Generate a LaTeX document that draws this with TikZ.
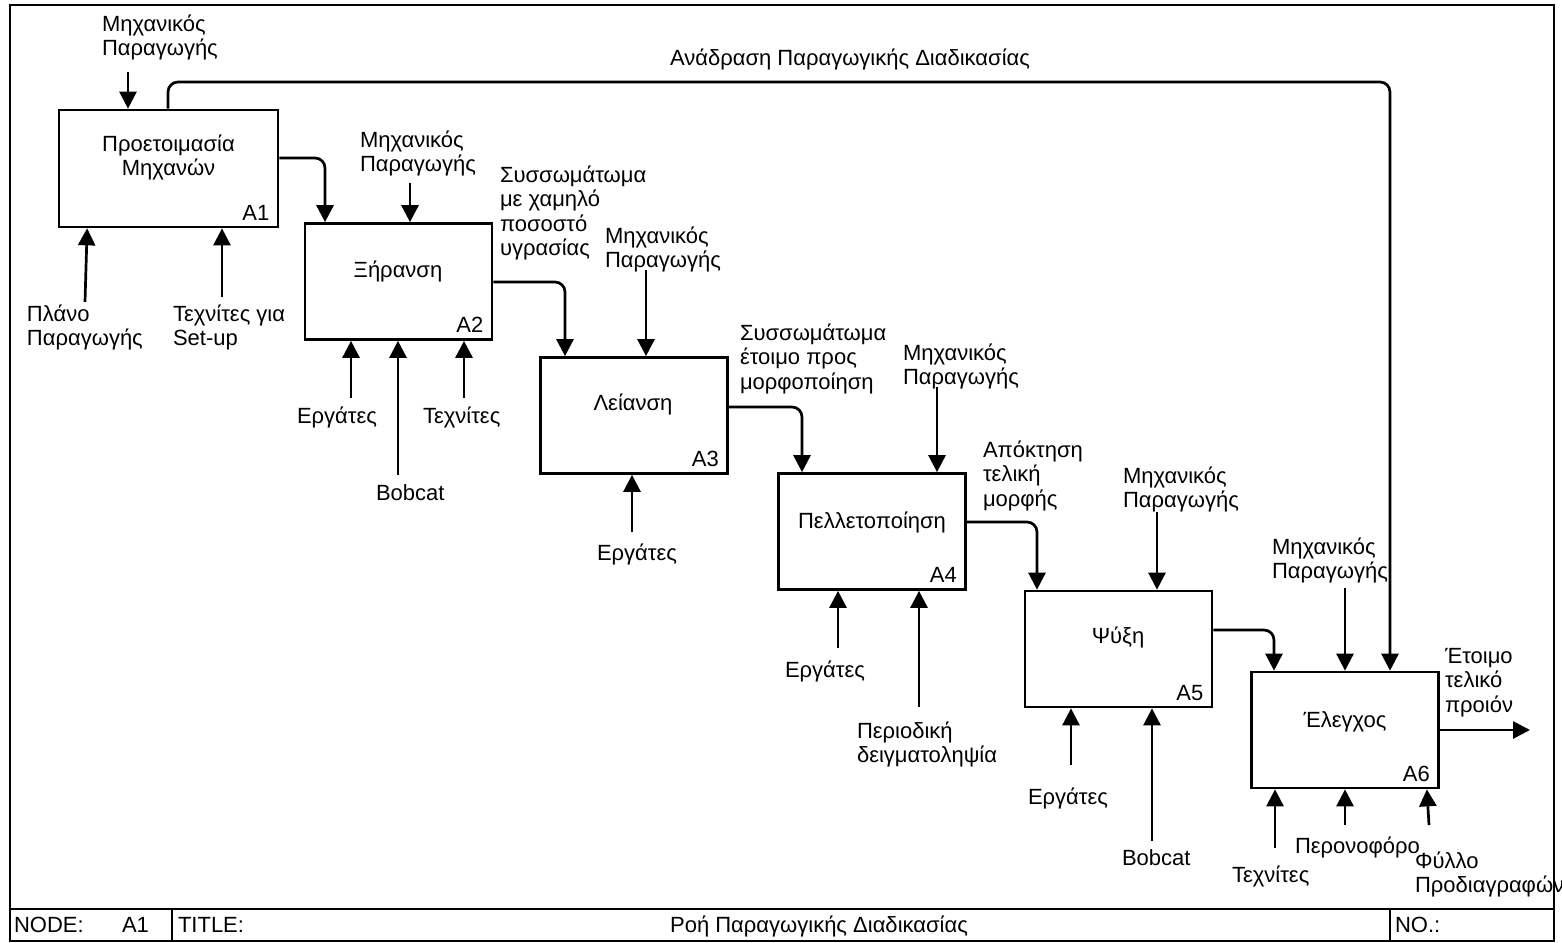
\documentclass[tikz,border=0pt]{standalone}
\usepackage{fontspec}
\setmainfont{Liberation Sans}
\usetikzlibrary{arrows.meta,calc}
\begin{document}
\begin{tikzpicture}[x=1pt,y=-1pt,
  every node/.style={inner sep=0pt, outer sep=0pt, font=\fontsize{22}{24.5}\selectfont},
  box/.style={draw, line width=2.7pt, outer sep=1.35pt, minimum width=187pt, minimum height=116pt},
  lbl/.style={align=left, anchor=base west},
  ttl/.style={align=center, anchor=base},
  idtag/.style={anchor=base east},
  arr/.style={line width=2.7pt, -{Triangle[width=17pt,length=17pt]}},
  flow/.style={arr, rounded corners=10pt},
  frm/.style={line width=2.7pt}]
\useasboundingbox (0,0) rectangle (1562,942);

% sheet frame and title strip
\draw[frm] (10,5) rectangle (1554,941);
\draw[frm] (10,909) -- (1554,909);
\draw[frm] (172,909) -- (172,941);
\draw[frm] (1390,909) -- (1390,941);
\node[lbl] (nodekey) at (14,932) {NODE:};
\node[lbl] (nodeval) at (122,932) {A1};
\node[lbl] (titlekey) at (178,932) {TITLE:};
\node[ttl] (titleval) at (819,932) {Ροή Παραγωγικής Διαδικασίας};
\node[lbl] (numkey) at (1395,932) {NO.:};

% activity boxes (multi-line texts are placed by the baseline of their last line)
\node[box, minimum width=219pt, minimum height=117pt] (a1) at (168.5,168.5) {};
\node[box] (a2) at (398.5,281.5) {};
\node[box] (a3) at (634,415.5) {};
\node[box] (a4) at (872,531.5) {};
\node[box] (a5) at (1118.5,649) {};
\node[box] (a6) at (1345,730) {};

\node[ttl] (a1t) at (168.5,175.5) {Προετοιμασία\\Μηχανών};
\node[ttl] (a2t) at (398,277) {Ξήρανση};
\node[ttl] (a3t) at (633,410) {Λείανση};
\node[ttl] (a4t) at (872,528) {Πελλετοποίηση};
\node[ttl] (a5t) at (1118,643) {Ψύξη};
\node[ttl] (a6t) at (1345,727) {Έλεγχος};

\node[idtag] (a1id) at ($(a1.south east)+(-10,-8)$) {A1};
\node[idtag] (a2id) at ($(a2.south east)+(-10,-8)$) {A2};
\node[idtag] (a3id) at ($(a3.south east)+(-10,-8)$) {A3};
\node[idtag] (a4id) at ($(a4.south east)+(-10,-8)$) {A4};
\node[idtag] (a5id) at ($(a5.south east)+(-10,-8)$) {A5};
\node[idtag] (a6id) at ($(a6.south east)+(-10,-8)$) {A6};

% feedback loop
\coordinate (fb1) at (168,82);
\coordinate (fb2) at (1390,82);
\draw[flow] (a1.north -| fb1) -- (fb1) -- (fb2) -- (fb2 |- a6.north);
\node[ttl] (fblbl) at (850,65) {Ανάδραση Παραγωγικής Διαδικασίας};

% A1
\node[lbl] (c1l) at (102,56) {Μηχανικός\\Παραγωγής};
\coordinate (c1) at (128,72);
\draw[arr] (c1) -- (c1 |- a1.north);
\node[lbl] (m1al) at (27,345.5) {Πλάνο\\Παραγωγής};
\coordinate (m1a) at (85,302);
\draw[arr] (m1a) -- ($(a1.south west)+(29.5,0)$);
\node[lbl] (m1bl) at (173,345.5) {Τεχνίτες για\\Set-up};
\coordinate (m1b) at (222,297);
\draw[arr] (m1b) -- (m1b |- a1.south);
\coordinate (o1) at (325,158);
\draw[flow] (a1.east |- o1) -- (o1) -- (o1 |- a2.north);

% A2
\node[lbl] (c2l) at (360,171.5) {Μηχανικός\\Παραγωγής};
\coordinate (c2) at (410,183);
\draw[arr] (c2) -- (c2 |- a2.north);
\node[lbl] (o2l) at (500,255.5) {Συσσωμάτωμα\\με χαμηλό\\ποσοστό\\υγρασίας};
\coordinate (o2) at (565,282);
\draw[flow] (a2.east |- o2) -- (o2) -- (o2 |- a3.north);
\node[lbl] (m2al) at (297,423) {Εργάτες};
\coordinate (m2a) at (351,398);
\draw[arr] (m2a) -- (m2a |- a2.south);
\node[lbl] (m2bl) at (376,500) {Bobcat};
\coordinate (m2b) at (398,475);
\draw[arr] (m2b) -- (m2b |- a2.south);
\node[lbl] (m2cl) at (423,423) {Τεχνίτες};
\coordinate (m2c) at (464,398);
\draw[arr] (m2c) -- (m2c |- a2.south);

% A3
\node[lbl] (c3l) at (605,267.5) {Μηχανικός\\Παραγωγής};
\coordinate (c3) at (646,270);
\draw[arr] (c3) -- (c3 |- a3.north);
\node[lbl] (o3l) at (740,389) {Συσσωμάτωμα\\έτοιμο προς\\μορφοποίηση};
\coordinate (o3) at (802,407);
\draw[flow] (a3.east |- o3) -- (o3) -- (o3 |- a4.north);
\node[lbl] (m3al) at (597,560) {Εργάτες};
\coordinate (m3a) at (632,532);
\draw[arr] (m3a) -- (m3a |- a3.south);

% A4
\node[lbl] (c4l) at (903,384.5) {Μηχανικός\\Παραγωγής};
\coordinate (c4) at (937,387);
\draw[arr] (c4) -- (c4 |- a4.north);
\node[lbl] (o4l) at (983,506) {Απόκτηση\\τελική\\μορφής};
\coordinate (o4) at (1037,522);
\draw[flow] (a4.east |- o4) -- (o4) -- (o4 |- a5.north);
\node[lbl] (m4al) at (785,677) {Εργάτες};
\coordinate (m4a) at (838,648);
\draw[arr] (m4a) -- (m4a |- a4.south);
\node[lbl] (m4bl) at (857,762.5) {Περιοδική\\δειγματοληψία};
\coordinate (m4b) at (919,707);
\draw[arr] (m4b) -- (m4b |- a4.south);

% A5
\node[lbl] (c5l) at (1123,507.5) {Μηχανικός\\Παραγωγής};
\coordinate (c5) at (1157,512);
\draw[arr] (c5) -- (c5 |- a5.north);
\coordinate (o5) at (1274,630);
\draw[flow] (a5.east |- o5) -- (o5) -- (o5 |- a6.north);
\node[lbl] (m5al) at (1028,804) {Εργάτες};
\coordinate (m5a) at (1071,765);
\draw[arr] (m5a) -- (m5a |- a5.south);
\node[lbl] (m5bl) at (1122,865) {Bobcat};
\coordinate (m5b) at (1152,841);
\draw[arr] (m5b) -- (m5b |- a5.south);

% A6
\node[lbl] (c6l) at (1272,578.5) {Μηχανικός\\Παραγωγής};
\coordinate (c6) at (1345,588);
\draw[arr] (c6) -- (c6 |- a6.north);
\node[lbl] (o6l) at (1445,712) {Έτοιμο\\τελικό\\προιόν};
\coordinate (o6) at (1530,730);
\draw[arr] (a6.east |- o6) -- (o6);
\node[lbl] (m6al) at (1232,882) {Τεχνίτες};
\coordinate (m6a) at (1275,848);
\draw[arr] (m6a) -- (m6a |- a6.south);
\node[lbl] (m6bl) at (1295,853) {Περονοφόρο};
\coordinate (m6b) at (1345,825);
\draw[arr] (m6b) -- (m6b |- a6.south);
\node[lbl] (m6cl) at (1415,892.5) {Φύλλο\\Προδιαγραφών};
\coordinate (m6c) at (1429,825);
\draw[arr] (m6c) -- ($(a6.south east)+(-13,0)$);
\end{tikzpicture}
\end{document}
